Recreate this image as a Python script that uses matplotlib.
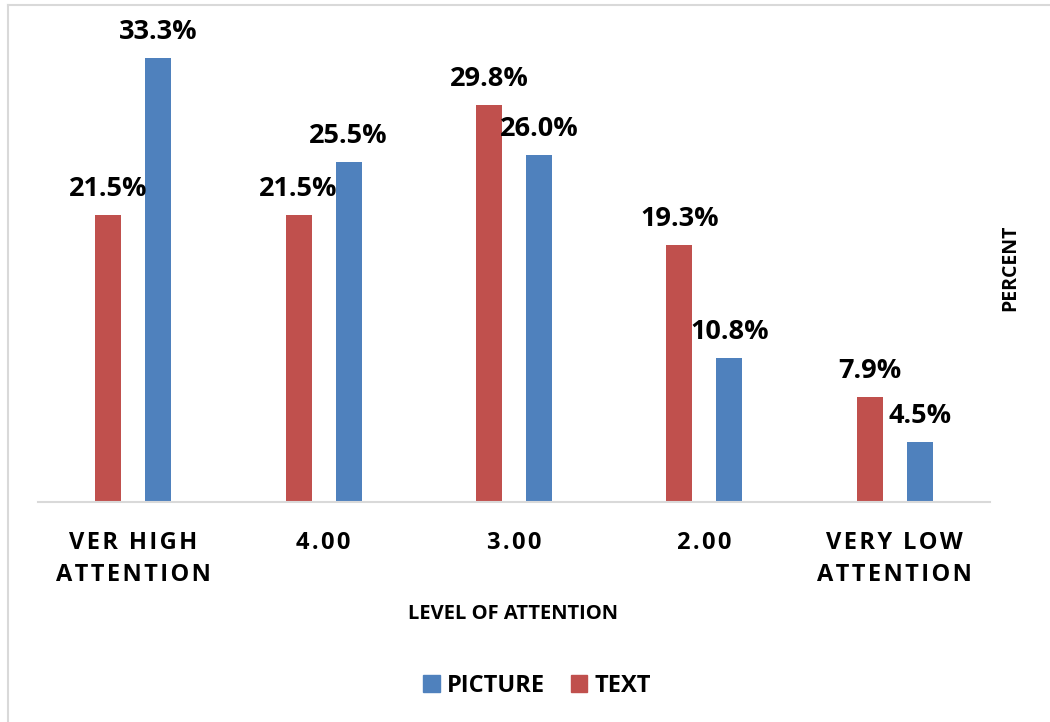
import numpy as np
import matplotlib.pyplot as plt
from matplotlib.lines import Line2D
from matplotlib.patches import Patch

# attention level survey: share of respondents per level
categories = ["VER HIGH\nATTENTION", "4.00", "3.00", "2.00", "VERY LOW\nATTENTION"]
text_pct = [21.5, 21.5, 29.8, 19.3, 7.9]
picture_pct = [33.3, 25.5, 26.0, 10.8, 4.5]

RED = "#C0504D"
BLUE = "#4F81BD"
FONT = ["Open Sans", "DejaVu Sans"]

plt.rcParams["font.family"] = FONT
plt.rcParams["font.weight"] = "bold"

W, H = 1050, 722
fig = plt.figure(figsize=(W / 100, H / 100), dpi=100)

# light frame: top and left edges only
frame = dict(transform=fig.transFigure, color="#D9D9D9", linewidth=1.5)
fig.lines.append(Line2D([8 / W, 1], [1 - 5 / H, 1 - 5 / H], **frame))
fig.lines.append(Line2D([8 / W, 8 / W], [0, 1 - 5 / H], **frame))

ax = fig.add_axes([38 / W, (H - 502) / H, (990 - 38) / W, 480 / H])

x = np.arange(len(categories))
bw = 0.137
off = 0.131
bars_t = ax.bar(x - off, text_pct, bw, color=RED, zorder=2)
bars_p = ax.bar(x + off, picture_pct, bw, color=BLUE, zorder=2)

for bars, vals in ((bars_t, text_pct), (bars_p, picture_pct)):
    for b, v in zip(bars, vals):
        ax.annotate(f"{v:.1f}%", (b.get_x() + b.get_width() / 2, v),
                    xytext=(0, 19), textcoords="offset pixels",
                    ha="center", va="baseline", fontsize=19.5, fontweight="bold")

ax.set_xlim(-0.5, len(categories) - 0.5)
ax.set_ylim(0, 36)
ax.set_yticks([])
for s in ("top", "right", "left"):
    ax.spines[s].set_visible(False)
ax.spines["bottom"].set_color("#D9D9D9")
ax.spines["bottom"].set_linewidth(1.5)

# widen letter spacing on the category names
spaced = ["\n".join("\u200a".join(line) for line in c.split("\n")) for c in categories]
ax.set_xticks(x)
ax.set_xticklabels(spaced, fontsize=17, fontweight="bold", linespacing=1.45)
ax.tick_params(axis="x", length=0, pad=21)

fig.text(513 / W, 1 - 614 / H, "LEVEL OF ATTENTION", ha="center", va="center",
         fontsize=14.5, fontweight="bold")
fig.text(1010 / W, 1 - 268 / H, "PERCENT", ha="center", va="center",
         rotation=90, fontsize=14, fontweight="bold")

handles = [Patch(color=BLUE, label="PICTURE"), Patch(color=RED, label="TEXT")]
fig.legend(handles=handles, loc="center", bbox_to_anchor=(537 / W, 1 - 686 / H),
           ncol=2, frameon=False, prop={"size": 17, "weight": "bold"},
           handlelength=0.7, handleheight=0.7, handletextpad=0.3, columnspacing=1.1)

fig.savefig("out.png", dpi=100)
